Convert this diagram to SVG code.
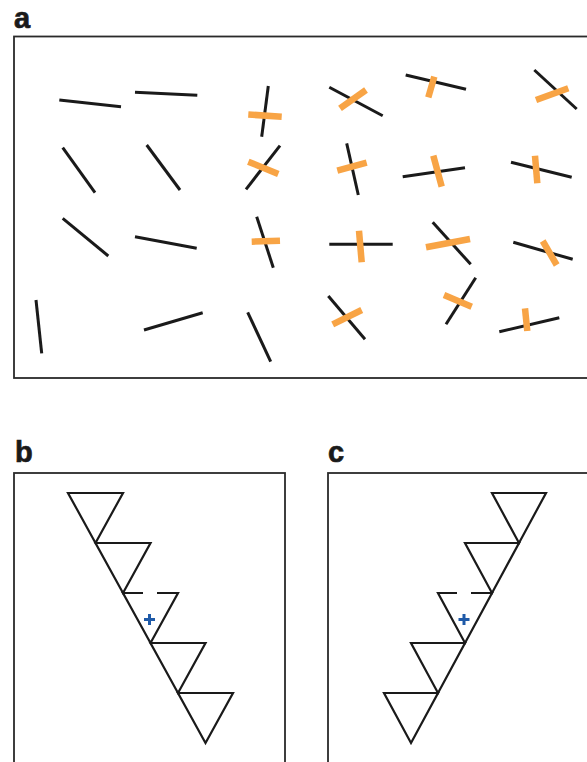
<svg xmlns="http://www.w3.org/2000/svg" width="587" height="762" viewBox="0 0 587 762">
<style>
.lbl{font-family:"Liberation Sans",Arial,sans-serif;font-weight:bold;font-size:29px;fill:#1a1a1a;stroke:#1a1a1a;stroke-width:0.7}
.box{fill:none;stroke:#2a2a2a;stroke-width:1.8}
.k{stroke:#1a1a1a;stroke-width:3;stroke-linecap:butt;fill:none}
.o{stroke:#F8A445;stroke-width:6.5;stroke-linecap:butt;fill:none}
.tri{fill:none;stroke:#1a1a1a;stroke-width:2.2;stroke-linejoin:miter}
.ln{fill:none;stroke:#1a1a1a;stroke-width:2.2}
.plus{stroke:#1f5aa8;stroke-width:3;fill:none}
</style>
<rect width="587" height="762" fill="#ffffff"/>

<g id="panel-a">
<text class="lbl" x="14" y="28">a</text>
<rect class="box" x="14" y="36.5" width="600" height="341.5"/>
<g id="a-r1c1"><line class="k" x1="59.3" y1="100" x2="121" y2="106.7"/></g>
<g id="a-r1c2"><line class="k" x1="135" y1="92.3" x2="197.3" y2="95.3"/></g>
<g id="a-r1c3"><line class="k" x1="268.3" y1="86" x2="261.7" y2="136.7"/><line class="o" x1="248.3" y1="114.5" x2="281.7" y2="116.7"/></g>
<g id="a-r1c4"><line class="k" x1="329.3" y1="87.3" x2="382.7" y2="115.7"/><line class="o" x1="340" y1="108.3" x2="366" y2="90"/></g>
<g id="a-r1c5"><line class="k" x1="405.7" y1="75" x2="466" y2="89.3"/><line class="o" x1="434.3" y1="76.7" x2="428.3" y2="97.3"/></g>
<g id="a-r1c6"><line class="k" x1="534.3" y1="70" x2="576.7" y2="109"/><line class="o" x1="536" y1="100" x2="568.3" y2="88.3"/></g>

<g id="a-r2c1"><line class="k" x1="62.7" y1="147.7" x2="95" y2="192.7"/></g>
<g id="a-r2c2"><line class="k" x1="146.7" y1="145" x2="180" y2="190"/></g>
<g id="a-r2c3"><line class="k" x1="280" y1="145.7" x2="246" y2="189.3"/><line class="o" x1="248.3" y1="161.7" x2="278.3" y2="174"/></g>
<g id="a-r2c4"><line class="k" x1="346.7" y1="143.3" x2="358.3" y2="195"/><line class="o" x1="337.3" y1="170.7" x2="366.7" y2="162.7"/></g>
<g id="a-r2c5"><line class="k" x1="402.7" y1="176.7" x2="465" y2="167.7"/><line class="o" x1="433.3" y1="155.7" x2="441.7" y2="186.7"/></g>
<g id="a-r2c6"><line class="k" x1="511" y1="162.3" x2="571.7" y2="177.3"/><line class="o" x1="535" y1="155.7" x2="537.3" y2="183.3"/></g>

<g id="a-r3c1"><line class="k" x1="62.7" y1="218.3" x2="108.3" y2="256"/></g>
<g id="a-r3c2"><line class="k" x1="135" y1="236.7" x2="196.7" y2="248.3"/></g>
<g id="a-r3c3"><line class="k" x1="256.7" y1="216.7" x2="273.3" y2="267.7"/><line class="o" x1="251.7" y1="241.7" x2="280" y2="240.7"/></g>
<g id="a-r3c4"><line class="k" x1="329.3" y1="244.3" x2="392.7" y2="244.3"/><line class="o" x1="359" y1="230.7" x2="361.7" y2="262.3"/></g>
<g id="a-r3c5"><line class="k" x1="432.7" y1="222.3" x2="470.7" y2="264.3"/><line class="o" x1="426" y1="247.3" x2="470" y2="239"/></g>
<g id="a-r3c6"><line class="k" x1="513.3" y1="242.3" x2="572.7" y2="259.3"/><line class="o" x1="542.7" y1="241" x2="556.7" y2="265"/></g>

<g id="a-r4c1"><line class="k" x1="36" y1="300" x2="41.7" y2="353.3"/></g>
<g id="a-r4c2"><line class="k" x1="144" y1="330" x2="202.7" y2="312.7"/></g>
<g id="a-r4c3"><line class="k" x1="247.7" y1="312.3" x2="270.7" y2="361.7"/></g>
<g id="a-r4c4"><line class="k" x1="328.3" y1="296" x2="365" y2="339.3"/><line class="o" x1="332.7" y1="324.3" x2="361.7" y2="310"/></g>
<g id="a-r4c5"><line class="k" x1="475.7" y1="277.7" x2="446" y2="324.3"/><line class="o" x1="444" y1="295" x2="471.7" y2="306.7"/></g>
<g id="a-r4c6"><line class="k" x1="499.3" y1="331.7" x2="559.3" y2="317.7"/><line class="o" x1="525" y1="308.3" x2="527.3" y2="331"/></g>
</g>

<g id="panel-b">
<text class="lbl" x="15" y="462">b</text>
<rect class="box" x="14" y="473" width="271" height="300"/>
<g id="b-t1"><polygon class="tri" points="68,493 123,493 95.5,543"/></g>
<g id="b-t2"><polygon class="tri" points="95.5,543 150.5,543 123,593"/></g>
<g id="b-t3"><polyline class="ln" points="143,593 123,593 150.5,643 178,593 157,593"/></g>
<g id="b-t4"><polygon class="tri" points="150.5,643 205.5,643 178,693"/></g>
<g id="b-t5"><polygon class="tri" points="178,693 233,693 205.5,743"/></g>
<g id="b-plus"><path class="plus" d="M144,619.5H155M149.5,614V625"/></g>
</g>

<g id="panel-c">
<text class="lbl" x="328" y="462">c</text>
<rect class="box" x="328" y="473" width="300" height="300"/>
<g id="c-t1"><polygon class="tri" points="492,493 546,493 519,543"/></g>
<g id="c-t2"><polygon class="tri" points="465,543 519,543 492,593"/></g>
<g id="c-t3"><polyline class="ln" points="457,593 438,593 465,643 492,593 471,593"/></g>
<g id="c-t4"><polygon class="tri" points="411,643 465,643 438,693"/></g>
<g id="c-t5"><polygon class="tri" points="384,693 438,693 411,743"/></g>
<g id="c-plus"><path class="plus" d="M458.5,619.5H469.5M464,614V625"/></g>
</g>
</svg>
